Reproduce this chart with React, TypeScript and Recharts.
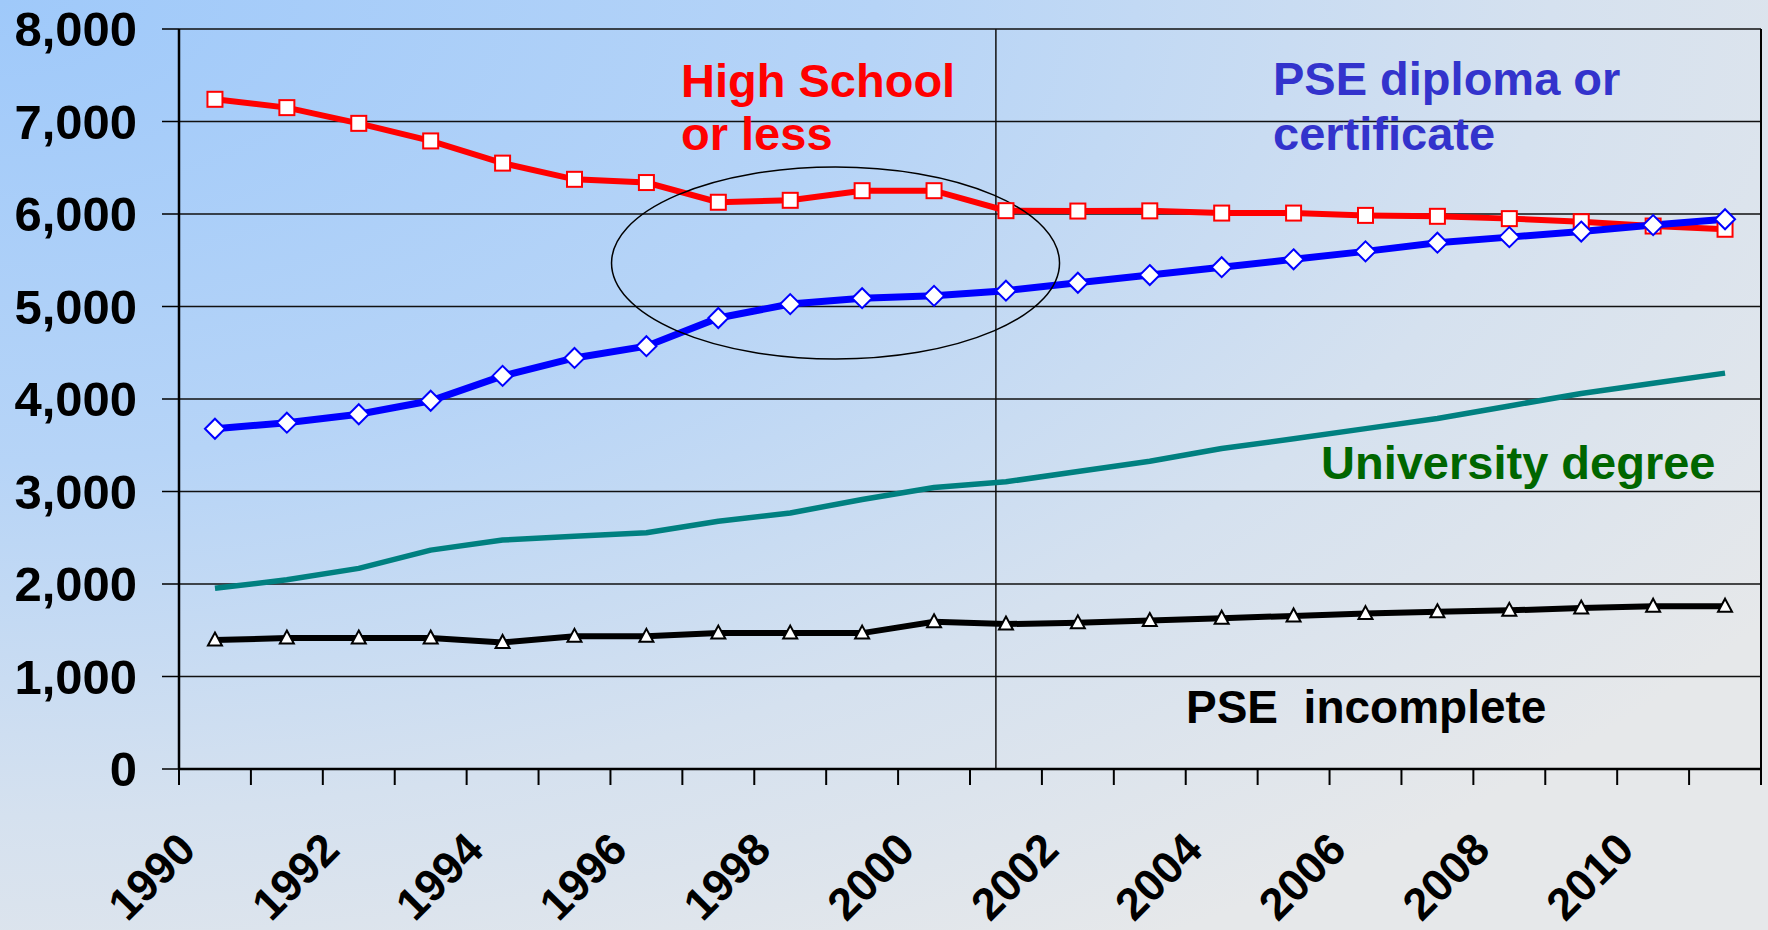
import React from "react";
import {
  LineChart,
  Line,
  XAxis,
  YAxis,
  CartesianGrid,
  ReferenceLine,
  ReferenceDot,
} from "recharts";

const years = [
  1990, 1991, 1992, 1993, 1994, 1995, 1996, 1997, 1998, 1999, 2000, 2001,
  2002, 2003, 2004, 2005, 2006, 2007, 2008, 2009, 2010, 2011,
];

const highSchool = [
  7240, 7150, 6980, 6790, 6550, 6375, 6340, 6127, 6148, 6252, 6252, 6036,
  6032, 6034, 6010, 6010, 5985, 5975, 5950, 5917, 5870, 5835,
];

const pseDiploma = [
  3678, 3744, 3835, 3981, 4250, 4444, 4571, 4876, 5026, 5090, 5115, 5171,
  5257, 5340, 5425, 5510, 5596, 5690, 5750, 5810, 5880, 5943,
];

const university = [
  1953, 2045, 2169, 2366, 2475, 2515, 2554, 2678, 2768, 2914, 3043, 3105,
  3216, 3327, 3464, 3570, 3680, 3790, 3925, 4060, 4170, 4280,
];

const pseIncomplete = [
  1394, 1416, 1416, 1416, 1368, 1434, 1434, 1469, 1469, 1469, 1591, 1567,
  1580, 1605, 1630, 1655, 1680, 1700, 1715, 1740, 1760, 1760,
];

const yTicks = [0, 1000, 2000, 3000, 4000, 5000, 6000, 7000, 8000];
const yearLabels = [1990, 1992, 1994, 1996, 1998, 2000, 2002, 2004, 2006, 2008, 2010];

// tick marks sit between the years, labels sit on the even years
const tickMarks = years.map((y) => y - 0.5).concat(years[years.length - 1] + 0.5);

const data = years.map((year, i) => ({
  year,
  highSchool: highSchool[i],
  pseDiploma: pseDiploma[i],
  university: university[i],
  pseIncomplete: pseIncomplete[i],
}));

const FONT = "'Liberation Sans', Arial, Helvetica, sans-serif";

const SquareDot = (props: any) => {
  const { cx, cy, index } = props;
  if (cx == null || cy == null) return null;
  return (
    <rect
      key={`sq-${index}`}
      x={cx - 7.5}
      y={cy - 7.5}
      width={15}
      height={15}
      fill="#fff"
      stroke="#ff0000"
      strokeWidth={2}
    />
  );
};

const DiamondDot = (props: any) => {
  const { cx, cy, index } = props;
  if (cx == null || cy == null) return null;
  return (
    <polygon
      key={`di-${index}`}
      points={`${cx},${cy - 10} ${cx + 10},${cy} ${cx},${cy + 10} ${cx - 10},${cy}`}
      fill="#fff"
      stroke="#0000ff"
      strokeWidth={2}
    />
  );
};

const TriangleDot = (props: any) => {
  const { cx, cy, index } = props;
  if (cx == null || cy == null) return null;
  return (
    <polygon
      key={`tr-${index}`}
      points={`${cx},${cy - 7.5} ${cx + 7},${cy + 5.5} ${cx - 7},${cy + 5.5}`}
      fill="#fff"
      stroke="#000"
      strokeWidth={2}
    />
  );
};

const XTick = (props: any) => {
  const { x, y, payload } = props;
  const v = payload.value;
  if (Number.isInteger(v)) {
    const ax = x - 17;
    const ay = y + 83;
    return (
      <text
        x={ax}
        y={ay}
        textAnchor="end"
        transform={`rotate(-45 ${ax} ${ay})`}
        fontSize={45}
        fontWeight="bold"
        fontFamily={FONT}
        fill="#000"
      >
        {v}
      </text>
    );
  }
  return <line x1={x} y1={y} x2={x} y2={y + 16} stroke="#000" strokeWidth={2} />;
};

const Ellipse = (props: any) => {
  const { cx, cy } = props;
  return <ellipse cx={cx} cy={cy} rx={224} ry={96} fill="none" stroke="#000" strokeWidth={1.5} />;
};

const textStyle: React.CSSProperties = { whiteSpace: "pre" };

export default function App() {
  return (
    <div
      style={{
        position: "absolute",
        left: 0,
        top: 0,
        width: 1768,
        height: 930,
        background:
          "radial-gradient(ellipse at 0% 0%, #9fc9fa 0%, #b6d4f7 35%, #d5e1ef 62%, #e6e8ea 85%)",
      }}
    >
      <LineChart
        width={1768}
        height={930}
        data={data}
        margin={{ top: 29, right: 7, left: 0, bottom: 0 }}
      >
        <CartesianGrid vertical={false} stroke="#111" strokeWidth={1.5} />
        <XAxis
          dataKey="year"
          type="number"
          domain={[1989.5, 2011.5]}
          ticks={[...tickMarks, ...yearLabels]}
          interval={0}
          tickLine={false}
          tickSize={0}
          tickMargin={0}
          tick={XTick}
          axisLine={{ stroke: "#000", strokeWidth: 2.5 }}
          height={161}
        />
        <YAxis
          type="number"
          domain={[0, 8000]}
          ticks={yTicks}
          interval={0}
          width={179}
          tickSize={17}
          tickMargin={25}
          tickFormatter={(v: number) => v.toLocaleString("en-US")}
          tick={{ fontSize: 49, fontWeight: "bold", fill: "#000", fontFamily: FONT }}
          tickLine={{ stroke: "#000", strokeWidth: 1.5 }}
          axisLine={{ stroke: "#000", strokeWidth: 2.5 }}
        />
        <ReferenceLine x={2011.5} stroke="#000" strokeWidth={2} />
        <ReferenceLine x={2000.86} stroke="#111" strokeWidth={1.5} />
        <ReferenceDot x={1998.63} y={5470} shape={Ellipse} />
        <Line
          dataKey="highSchool"
          stroke="#ff0000"
          strokeWidth={6}
          dot={SquareDot}
          isAnimationActive={false}
        />
        <Line
          dataKey="pseDiploma"
          stroke="#0000ff"
          strokeWidth={7}
          dot={DiamondDot}
          isAnimationActive={false}
        />
        <Line
          dataKey="university"
          stroke="#008080"
          strokeWidth={5.5}
          strokeLinejoin="round"
          dot={false}
          isAnimationActive={false}
        />
        <Line
          dataKey="pseIncomplete"
          stroke="#000"
          strokeWidth={6}
          dot={TriangleDot}
          isAnimationActive={false}
        />
      </LineChart>
      <svg
        width={1768}
        height={930}
        style={{ position: "absolute", left: 0, top: 0, pointerEvents: "none" }}
      >
        <g fontFamily={FONT} fontWeight="bold">
          <text x={681} y={96.5} fontSize={47} fill="#ff0000">High School</text>
          <text x={681} y={150} fontSize={47} fill="#ff0000">or less</text>
          <text x={1273} y={95} fontSize={47} fill="#3333cc">PSE diploma or</text>
          <text x={1273} y={150} fontSize={47} fill="#3333cc">certificate</text>
          <text x={1321} y={479} fontSize={47} fill="#006600">University degree</text>
          <text x={1186} y={723} fontSize={46} fill="#000" style={textStyle}>PSE  incomplete</text>
        </g>
      </svg>
    </div>
  );
}
